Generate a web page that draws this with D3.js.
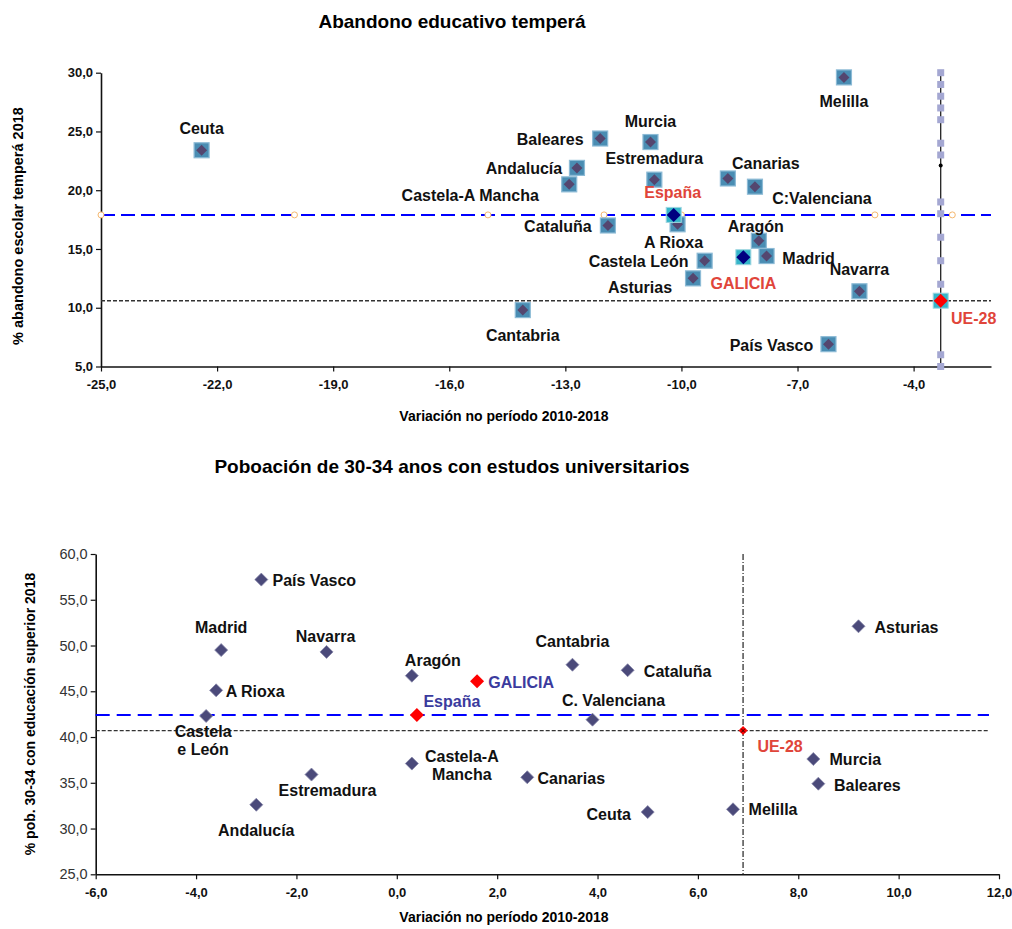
<!DOCTYPE html>
<html><head><meta charset="utf-8">
<script src="https://cdn.jsdelivr.net/npm/d3@7/dist/d3.min.js"></script>
<style>
body{margin:0;background:#fff;}
svg{font-family:"Liberation Sans",Arial,Helvetica,sans-serif;}
</style></head>
<body><svg id="c" width="1012" height="929"></svg>
<script>
// ---------- Chart 1: Abandono educativo temperá ----------
const topTitle = "Abandono educativo temperá";
const topXTitle = "Variación no período 2010-2018";
const topYTitle = "% abandono escolar temperá 2018";
const topXTicks = [-25, -22, -19, -16, -13, -10, -7, -4];
const topYTicks = [5, 10, 15, 20, 25, 30];
const topRegions = ["Ceuta","Melilla","Baleares","Murcia","Andalucía","Castela-A Mancha","Estremadura","Canarias","C:Valenciana","Cataluña","A Rioxa","Aragón","Madrid","Castela León","Asturias","Navarra","Cantabria","País Vasco"];
const topVariation = [-22.4,-5.8,-12.1,-10.8,-12.7,-12.9,-10.7,-8.8,-8.1,-11.9,-10.1,-8.0,-7.8,-9.4,-9.7,-5.4,-14.1,-6.2];
const topRate2018 = [23.4,29.6,24.4,24.1,21.9,20.5,20.9,21.0,20.3,17.0,17.1,15.7,14.4,14.0,12.5,11.4,9.8,6.9];
const topRefNames = ["España","GALICIA","UE-28"];
const topRefVariation = [-10.2,-8.4,-3.3];
const topRefRate = [17.9,14.3,10.6];
const topSpainLineX = [-25,-20,-15,-12,-10,-5,-3];
const topUeLineY = [30,29,28,27,26,24,23,19,18,16,14,12,6,5];
const topUeDotY = [22.1];

// ---------- Chart 2: Poboación de 30-34 anos ----------
const botTitle = "Poboación de 30-34 anos con estudos universitarios";
const botXTitle = "Variación no período 2010-2018";
const botYTitle = "% pob. 30-34 con educación superior 2018";
const botXTicks = [-6,-4,-2,0,2,4,6,8,10,12];
const botYTicks = [25,30,35,40,45,50,55,60];
const botRegions = ["País Vasco","Madrid","Navarra","A Rioxa","Castela e León","Aragón","Castela-A Mancha","Estremadura","Andalucía","Asturias","Cantabria","Cataluña","C. Valenciana","Murcia","Baleares","Canarias","Ceuta","Melilla"];
const botVariation = [-2.7,-3.5,-1.4,-3.6,-3.8,0.3,0.3,-1.7,-2.8,9.2,3.5,4.6,3.9,8.3,8.4,2.6,5.0,6.7];
const botRate2018 = [57.2,49.5,49.3,45.1,42.3,46.7,37.1,35.9,32.6,52.1,47.9,47.3,41.9,37.6,34.9,35.6,31.8,32.1];
const botRefNames = ["España","GALICIA","UE-28"];
const botRefVariation = [0.4,1.6,6.9];
const botRefRate = [42.4,46.1,40.7];

const fmt = v => d3.format(".1f")(v).replace(".", ",").replace("\u2212", "-");
const svg = d3.select("#c");

// label layout (pixel offsets from the marker)
const topLab = {
 "Ceuta":[0,-22],"Melilla":[0,24],"Baleares":[-50,1],"Murcia":[0,-21],"Andalucía":[-53,1],
 "Castela-A Mancha":[-99,11],"Estremadura":[0,-21],"Canarias":[38,-15],"C:Valenciana":[67,12],
 "Cataluña":[-50,1],"A Rioxa":[-4,18],"Aragón":[-3,-14],"Madrid":[42,2],"Castela León":[-66,1],
 "Asturias":[-53,9],"Navarra":[0,-22],"Cantabria":[0,25],"País Vasco":[-57,1],
 "España":[-1,-22],"GALICIA":[0,26],"UE-28":[33,18]
};
const botLab = {
 "País Vasco":[53,1],"Madrid":[0,-23],"Navarra":[-1,-15],"A Rioxa":[39,1],"Castela e León":[-3,16],
 "Aragón":[21,-15],"Castela-A Mancha":[50,-7],"Estremadura":[16,16],"Andalucía":[0,26],
 "Asturias":[48,1],"Cantabria":[0,-23],"Cataluña":[50,1],"C. Valenciana":[21,-19],
 "Murcia":[42,1],"Baleares":[49,2],"Canarias":[44,1],"Ceuta":[-39,2],"Melilla":[40,0],
 "España":[35,-14],"GALICIA":[44,1],"UE-28":[37,16]
};
const botSplit = {"Castela e León":["Castela","e León"],"Castela-A Mancha":["Castela-A","Mancha"]};

function axes(g, x, y, xTicks, yTicks, yBold){
  const xa = g.append("g").attr("transform",`translate(0,${y.range()[0]})`)
    .call(d3.axisBottom(x).tickValues(xTicks).tickFormat(fmt).tickSize(5).tickSizeOuter(0));
  xa.selectAll("text").attr("font-size",13).attr("font-weight","bold").attr("fill","#111").attr("dy","1.1em");
  const ya = g.append("g").attr("transform",`translate(${x.range()[0]},0)`)
    .call(d3.axisLeft(y).tickValues(yTicks).tickFormat(fmt).tickSize(5).tickSizeOuter(0));
  ya.selectAll("text").attr("font-size",yBold?13:14.5).attr("font-weight",yBold?"bold":"normal").attr("fill",yBold?"#111":"#333");
  [xa,ya].forEach(a=>{a.select(".domain").attr("stroke","#111").attr("stroke-width",1.6);
    a.selectAll(".tick line").attr("stroke","#111").attr("stroke-width",1.2);});
}
const diamond = s => `M0,${-s}L${s},0L0,${s}L${-s},0Z`;

// ===== TOP CHART =====
{
  const x = d3.scaleLinear().domain([-25,-2]).range([101,991]);
  const y = d3.scaleLinear().domain([5,30]).range([366.5,72.7]);
  const g = svg.append("g");
  g.append("text").attr("x",452).attr("y",28).attr("text-anchor","middle").attr("font-size",19).attr("font-weight","bold").text(topTitle);
  g.append("text").attr("x",504).attr("y",421).attr("text-anchor","middle").attr("font-size",14).attr("font-weight","bold").text(topXTitle);
  g.append("text").attr("transform",`translate(23,226) rotate(-90)`).attr("text-anchor","middle").attr("font-size",14.5).attr("font-weight","bold").text(topYTitle);
  axes(g,x,y,topXTicks,topYTicks,true);
  const ue = {x:topRefVariation[2], y:topRefRate[2]};
  const es = {x:topRefVariation[0], y:topRefRate[0]};
  g.append("line").attr("x1",x(-25)).attr("x2",x(-2)).attr("y1",y(ue.y)).attr("y2",y(ue.y))
    .attr("stroke","#333").attr("stroke-width",1.5).attr("stroke-dasharray","4,2");
  g.append("line").attr("x1",x(-25)).attr("x2",x(-2)).attr("y1",y(es.y)).attr("y2",y(es.y))
    .attr("stroke","#0000ff").attr("stroke-width",2).attr("stroke-dasharray","14,6");
  g.append("g").selectAll("circle").data(topSpainLineX).join("circle")
    .attr("cx",d=>x(d)).attr("cy",y(es.y)).attr("r",3).attr("fill","#fff").attr("stroke","#f5b870").attr("stroke-width",1);
  g.append("line").attr("x1",x(ue.x)).attr("x2",x(ue.x)).attr("y1",y(30)).attr("y2",y(5))
    .attr("stroke","#222").attr("stroke-width",1.3);
  g.append("g").selectAll("rect").data(topUeLineY).join("rect")
    .attr("x",x(ue.x)-3.5).attr("y",d=>y(d)-3.5).attr("width",7).attr("height",7).attr("fill","#a4a7d2");
  g.append("g").selectAll("circle").data(topUeDotY).join("circle")
    .attr("cx",x(ue.x)).attr("cy",d=>y(d)).attr("r",2).attr("fill","#000");
  const pts = topRegions.map((n,i)=>({n, x:topVariation[i], y:topRate2018[i]}));
  const mg = g.append("g");
  pts.forEach(p=>{
    const cx=x(p.x), cy=y(p.y);
    mg.append("rect").attr("x",cx-7.5).attr("y",cy-7.5).attr("width",15).attr("height",15)
      .attr("fill","#4a8db3").attr("stroke","#8dbbd6").attr("stroke-width",1.2);
    mg.append("path").attr("d",diamond(5.5)).attr("transform",`translate(${cx},${cy})`).attr("fill","#54466f");
  });
  const refs = topRefNames.map((n,i)=>({n,x:topRefVariation[i],y:topRefRate[i]}));
  refs.forEach((p,i)=>{
    const cx=x(p.x), cy=y(p.y);
    mg.append("rect").attr("x",cx-7.5).attr("y",cy-7.5).attr("width",15).attr("height",15)
      .attr("fill","#35b5c9").attr("stroke","#9fd6e0").attr("stroke-width",1);
    mg.append("path").attr("d",diamond(7)).attr("transform",`translate(${cx},${cy})`)
      .attr("fill", i===2 ? "#ff0000" : "#000080");
  });
  const lg = g.append("g").attr("font-size",16).attr("font-weight","bold");
  pts.forEach(p=>{
    const o=topLab[p.n];
    lg.append("text").attr("x",x(p.x)+o[0]).attr("y",y(p.y)+o[1]).attr("text-anchor","middle")
      .attr("dominant-baseline","central").attr("fill","#111").text(p.n);
  });
  refs.forEach(p=>{
    const o=topLab[p.n];
    lg.append("text").attr("x",x(p.x)+o[0]).attr("y",y(p.y)+o[1]).attr("text-anchor","middle")
      .attr("dominant-baseline","central").attr("fill","#e0453a").text(p.n);
  });
}

// ===== BOTTOM CHART =====
{
  const x = d3.scaleLinear().domain([-6,12]).range([95.7,999]);
  const y = d3.scaleLinear().domain([25,60]).range([874.3,554]);
  const g = svg.append("g");
  g.append("text").attr("x",452).attr("y",473).attr("text-anchor","middle").attr("font-size",19).attr("font-weight","bold").text(botTitle);
  g.append("text").attr("x",504).attr("y",922).attr("text-anchor","middle").attr("font-size",14).attr("font-weight","bold").text(botXTitle);
  g.append("text").attr("transform",`translate(35,714) rotate(-90)`).attr("text-anchor","middle").attr("font-size",14).attr("font-weight","bold").text(botYTitle);
  axes(g,x,y,botXTicks,botYTicks,false);
  const ue = {x:botRefVariation[2], y:botRefRate[2]};
  const es = {x:botRefVariation[0], y:botRefRate[0]};
  g.append("line").attr("x1",x(-6)).attr("x2",x(11.8)).attr("y1",y(ue.y)).attr("y2",y(ue.y))
    .attr("stroke","#333").attr("stroke-width",1.4).attr("stroke-dasharray","4,2");
  g.append("line").attr("x1",x(-6)).attr("x2",x(11.8)).attr("y1",y(es.y)).attr("y2",y(es.y))
    .attr("stroke","#0000ff").attr("stroke-width",2).attr("stroke-dasharray","14,7");
  g.append("line").attr("x1",x(ue.x)).attr("x2",x(ue.x)).attr("y1",y(60)).attr("y2",y(25))
    .attr("stroke","#333").attr("stroke-width",1.3).attr("stroke-dasharray","6,2,1,2");
  const pts = botRegions.map((n,i)=>({n,x:botVariation[i],y:botRate2018[i]}));
  const mg = g.append("g");
  pts.forEach(p=>{
    mg.append("path").attr("d",diamond(6.5)).attr("transform",`translate(${x(p.x)},${y(p.y)})`)
      .attr("fill","#4b4a7a").attr("stroke","#8787a8").attr("stroke-width",0.8);
  });
  const refs = botRefNames.map((n,i)=>({n,x:botRefVariation[i],y:botRefRate[i]}));
  refs.forEach((p,i)=>{
    const s = i===2 ? 4.5 : 7;
    mg.append("path").attr("d",diamond(s)).attr("transform",`translate(${x(p.x)},${y(p.y)})`)
      .attr("fill","#ff0000");
    if(i===2){
      mg.append("path").attr("d","M-2,-2L2,2M-2,2L2,-2").attr("transform",`translate(${x(p.x)},${y(p.y)})`)
        .attr("stroke","#300").attr("stroke-width",1);
    }
  });
  const lg = g.append("g").attr("font-size",16).attr("font-weight","bold");
  const put = (p,col)=>{
    const o=botLab[p.n];
    const lines = botSplit[p.n] || [p.n];
    lines.forEach((t,k)=>{
      lg.append("text").attr("x",x(p.x)+o[0]).attr("y",y(p.y)+o[1]+k*18).attr("text-anchor","middle")
        .attr("dominant-baseline","central").attr("fill",col).text(t);
    });
  };
  pts.forEach(p=>put(p,"#111"));
  put(refs[0],"#3b3b9e"); put(refs[1],"#3b3b9e"); put(refs[2],"#e0453a");
}
</script></body></html>
